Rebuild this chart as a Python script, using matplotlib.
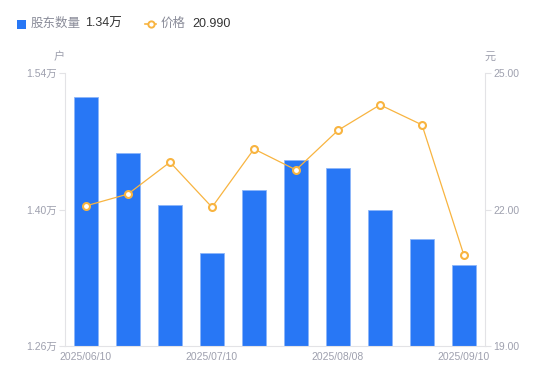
import numpy as np
import matplotlib
matplotlib.use("Agg")
import matplotlib.pyplot as plt
from matplotlib.lines import Line2D
from matplotlib.patches import Rectangle

plt.rcParams['font.family'] = ['Liberation Sans', 'Noto Sans CJK SC', 'DejaVu Sans']

# data
dates = ['2025/06/10', '2025/06/20', '2025/06/30', '2025/07/10', '2025/07/20',
         '2025/07/31', '2025/08/08', '2025/08/20', '2025/08/31', '2025/09/10']
holders = [1.515, 1.458, 1.405, 1.355, 1.420, 1.451, 1.443, 1.400, 1.370, 1.343]  # 万户
price = [22.08, 22.34, 23.04, 22.05, 23.33, 22.87, 23.74, 24.30, 23.86, 20.99]
label_idx = [0, 3, 6, 9]

bar_color = '#2877F5'
line_color = '#F8B440'
grey_txt = '#9EA0AE'
axis_grey = '#E3E3E6'

fig = plt.figure(figsize=(5.5, 3.81), dpi=100)
ax = fig.add_axes([65/550, 1-346/381, 420/550, 273/381])
ax2 = ax.twinx()

x = np.arange(len(dates))
ax.bar(x, holders, width=0.585, color=bar_color, edgecolor='#8DB6F9', linewidth=0.6, zorder=2)
ax.set_xlim(-0.5, len(dates) - 0.5)
ax.set_ylim(1.26, 1.54)
ax.set_yticks([1.26, 1.40, 1.54])
ax.set_yticklabels(['1.26万', '1.40万', '1.54万'])

ax2.plot(x, price, color=line_color, linewidth=0.9, marker='o', markersize=5,
         markerfacecolor='white', markeredgecolor=line_color, markeredgewidth=1.5, zorder=3)
ax2.set_ylim(19, 25)
ax2.set_yticks([19, 22, 25])
ax2.set_yticklabels(['19.00', '22.00', '25.00'])

ax.set_xticks(label_idx)
ax.set_xticklabels([dates[i] for i in label_idx])

for a in (ax, ax2):
    for s in a.spines.values():
        s.set_visible(False)
    a.tick_params(colors=grey_txt, labelsize=7.5, length=4, width=0.8, pad=2)
    a.tick_params(axis='y', color=axis_grey)
ax.tick_params(axis='x', length=0, pad=4)
ax.spines['left'].set_visible(True)
ax.spines['bottom'].set_visible(True)
ax.spines['left'].set_color(axis_grey)
ax.spines['bottom'].set_color(axis_grey)
ax2.spines['right'].set_visible(True)
ax2.spines['right'].set_color(axis_grey)
ax.set_zorder(1)
ax2.set_zorder(2)
ax.patch.set_visible(False)

# unit labels
fig.text(59/550, 1-57/381, '户', color=grey_txt, fontsize=8, ha='center', va='center')
fig.text(490/550, 1-57/381, '元', color=grey_txt, fontsize=8, ha='center', va='center')

# legend row
ly = 1 - 24/381
fig.patches.append(Rectangle((17/550, 1-28.5/381), 9/550, 9/381, transform=fig.transFigure,
                             facecolor=bar_color, edgecolor='none'))
fig.text(31/550, ly, '股东数量', color='#8A8C99', fontsize=9, va='center')
fig.text(85/550, ly, '%.2f万' % holders[-1], color='#333333', fontsize=9, va='center')
fig.lines.append(Line2D([145/550, 156/550], [ly, ly], transform=fig.transFigure,
                        color=line_color, linewidth=1.2))
fig.lines.append(Line2D([150.5/550], [ly], transform=fig.transFigure, color=line_color,
                        marker='o', markersize=4.5, markerfacecolor='white', markeredgewidth=1.4))
fig.text(161/550, ly, '价格', color='#8A8C99', fontsize=9, va='center')
fig.text(192/550, ly, '%.3f' % price[-1], color='#333333', fontsize=9, va='center')

fig.savefig('out.png', dpi=100)
